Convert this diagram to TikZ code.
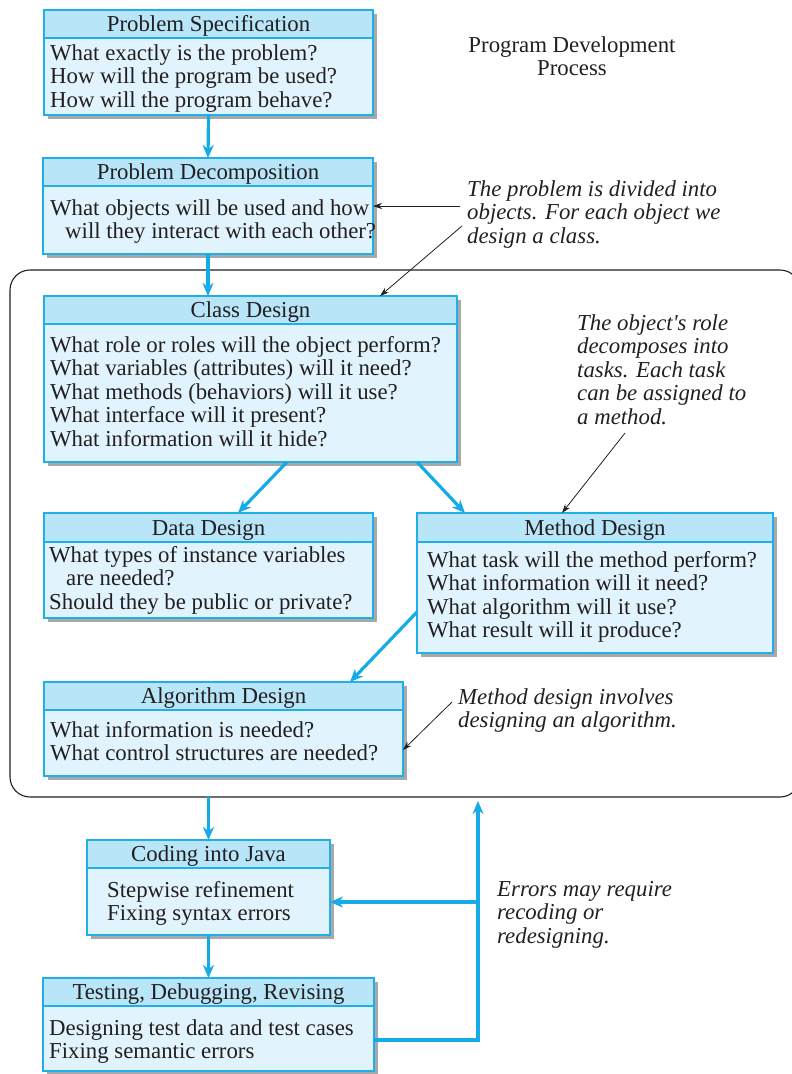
\documentclass[tikz,border=0pt]{standalone}
\usepackage{fontspec}
\setmainfont{Liberation Serif}
\usetikzlibrary{arrows.meta,fit,calc}
\definecolor{headc}{HTML}{B9E5F9}
\definecolor{bodyc}{HTML}{E1F3FC}
\definecolor{linec}{HTML}{1FB0E8}
\definecolor{arrc}{HTML}{14ABE6}
\definecolor{shadc}{HTML}{A8A8A8}
\definecolor{inkc}{HTML}{231F20}
\newcommand\fs{\fontsize{22.8}{23.5}\selectfont}
\tikzset{
 boxframe/.style={draw=linec, line width=1.4pt},
 bodyfill/.style={fill=bodyc, inner sep=0pt, outer sep=0pt},
 shad/.style={fill=shadc},
 ttl/.style={anchor=base, inner sep=0pt, font=\fs, text=inkc},
 txt/.style={anchor=north west, inner sep=0pt, align=left, font=\fs, text=inkc},
 note/.style={anchor=north west, inner sep=0pt, align=left, font=\fs\itshape, text=inkc},
 flow/.style={draw=arrc, line width=3.2pt, -{Stealth[length=13pt,width=11pt,inset=4pt]}},
 flowline/.style={draw=arrc, line width=3.2pt},
 ptr/.style={draw=inkc, line width=0.8pt, -{Stealth[length=9pt,width=6pt]}},
 region/.style={draw=inkc, line width=1.1pt, rounded corners=20pt, inner sep=0pt, outer sep=0pt},
}
% name, x1, y1, y header bottom, x2, y2, title
\newcommand\pbox[7]{%
 \fill[shad] (#2+4,#3+4) rectangle (#5+4,#6+4);
 \node[bodyfill, fit={(#2,#3)(#5,#6)}] (#1) {};
 \fill[headc] (#2,#3) rectangle (#5,#4);
 \draw[boxframe] (#2,#3) rectangle (#5,#6);
 \draw[boxframe] (#2,#4) -- (#5,#4);
 \node[ttl] (#1-t) at ({(#2+#5)/2},#4-7) {#7};
}
\begin{document}
\begin{tikzpicture}[x=1pt,y=-1pt]
\useasboundingbox (0,0) rectangle (792,1074);
\clip (0,0) rectangle (792,1074);

\node[region, fit={(10,270)(800,797)}] (region) {};

\pbox{spec}{44}{10}{38}{373}{115}{Problem Specification}
\node[txt] (spec-b) at (50,43.5) {\strut What exactly is the problem?\\How will the program be used?\\How will the program behave?};

\pbox{decomp}{43}{158}{186}{373}{254}{Problem Decomposition}
\node[txt] (decomp-b) at (50,198.5) {\strut What objects will be used and how\\\hspace*{15pt}will they interact with each other?};

\pbox{class}{44}{296}{324}{457}{462}{Class Design}
\node[txt] (class-b) at (50,335.5) {\strut What role or roles will the object perform?\\What variables (attributes) will it need?\\What methods (behaviors) will it use?\\What interface will it present?\\What information will it hide?};

\pbox{data}{44}{513}{542}{373}{618}{Data Design}
\node[txt] (data-b) at (49,545.5) {\strut What types of instance variables\\\hspace*{17pt}are needed?\\Should they be public or private?};

\pbox{method}{417}{513}{542}{773}{653}{Method Design}
\node[txt] (method-b) at (427,550.5) {\strut What task will the method perform?\\What information will it need?\\What algorithm will it use?\\What result will it produce?};

\pbox{algo}{44}{682}{710}{403}{776}{Algorithm Design}
\node[txt] (algo-b) at (50,720.5) {\strut What information is needed?\\What control structures are needed?};

\pbox{coding}{87}{840}{868}{330}{935}{Coding into Java}
\node[txt] (coding-b) at (107,880.5) {\strut Stepwise refinement\\Fixing syntax errors};

\pbox{testing}{43}{978}{1006}{374}{1071}{Testing, Debugging, Revising}
\node[txt] (testing-b) at (49,1018.5) {\strut Designing test data and test cases\\Fixing semantic errors};

% notes
\node[txt, align=center, anchor=north] (title) at (572,35.5) {\strut Program Development\\Process};
\node[note] (n1) at (467,179.5) {\strut The problem is divided into\\objects. For each object we\\design a class.};
\node[note] (n2) at (577,313.5) {\strut The object\textquotesingle s role\\decomposes into\\tasks. Each task\\can be assigned to\\a method.};
\node[note] (n3) at (458,687.5) {\strut Method design involves\\designing an algorithm.};
\node[note] (n4) at (497,879.5) {\strut Errors may require\\recoding or\\redesigning.};

% flow arrows
\draw[flow] (spec.south) -- (decomp.north);
\draw[flow] (decomp.south) -- (decomp.south |- class.north);
\draw[flow] ($(class.south west)+(243,0)$) -- ($(data.north west)+(194,0)$);
\draw[flow] ($(class.south west)+(373,0)$) -- ($(method.north west)+(48,0)$);
\draw[flow] ($(method.north west)+(0,99)$) -- ($(algo.north west)+(306,0)$);
\draw[flow] (coding.north |- region.south) -- (coding.north);
\draw[flow] (coding.south) -- (testing.north);
\coordinate (fbtop) at (478,801);
\coordinate (fbmid) at (478,902);
\coordinate (fbbot) at (478,1040);
\draw[flowline, line join=miter] (testing.east |- fbbot) -- (fbbot) -- (fbmid);
\draw[flow] (fbmid) -- (fbtop);
\draw[flow] (fbmid) -- (coding.east |- fbmid);

% pointer arrows
\coordinate (p1a) at (460,206);
\coordinate (p1b) at (462,226);
\coordinate (p2) at (625,433);
\coordinate (p3) at (452,702);
\draw[ptr] (p1a) -- (decomp.east |- p1a);
\draw[ptr] (p1b) -- ($(class.north west)+(336,0)$);
\draw[ptr] (p2) -- ($(method.north west)+(145,0)$);
\draw[ptr] (p3) -- ($(algo.north east)+(0,68)$);
\end{tikzpicture}
\end{document}
